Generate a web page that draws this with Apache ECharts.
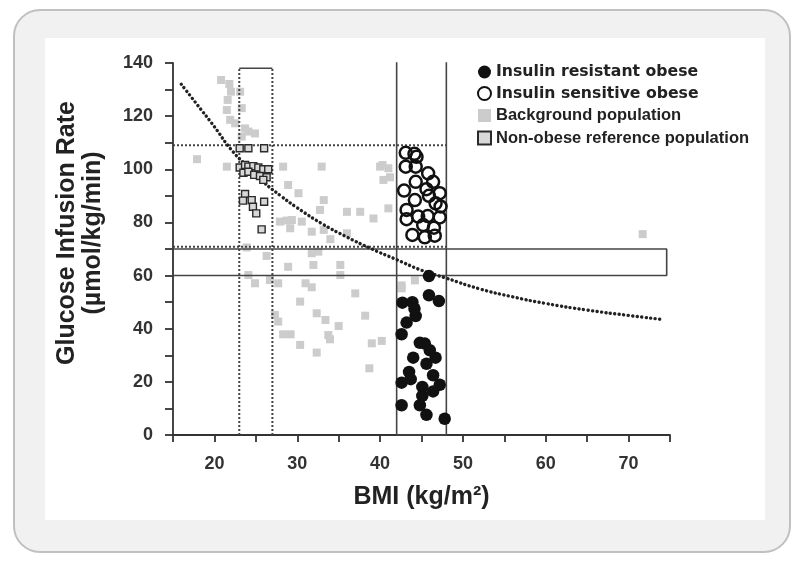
<!DOCTYPE html>
<html><head><meta charset="utf-8">
<script src="https://cdn.jsdelivr.net/npm/echarts@6/dist/echarts.min.js"></script>
<style>html,body{margin:0;padding:0;background:#fff}#c{width:800px;height:563px}</style>
</head><body><div id="c"></div>
<script>
// ---- data ----
const xTicks = [20, 30, 40, 50, 60, 70];
const yTicks = [0, 20, 40, 60, 80, 100, 120, 140];

const insulinResistant = [[45.9,59.8],[45.9,52.6],[47.1,50.4],[42.7,49.8],[43.9,50],[44.15,47.5],[44.3,44.8],[43.2,42.3],[42.6,37.9],[44.8,34.7],[45.4,34.4],[46,31.9],[44,29.1],[46.7,29.1],[45.6,26.8],[43.5,23.7],[46.4,22.5],[42.6,19.7],[43.7,21],[45.1,18.1],[47.2,18.9],[46.4,16.4],[45.1,14.7],[42.6,11.2],[44.8,11.2],[45.6,7.6],[47.8,6.1]];

const insulinSensitive = [[43.1,106.2],[44.15,105.8],[44.4,104.7],[43.1,101],[44.3,101],[45.8,98.5],[46.4,95.3],[44.3,95.3],[42.9,92],[45.6,92.5],[47.2,91],[45.9,90],[44.2,88.4],[46.7,87.2],[47.3,86],[43.2,84.7],[44.6,82.2],[45.75,82.4],[47.2,81.9],[43.2,81.2],[45.2,79],[46.5,78],[43.9,75.3],[45.4,74.4],[46.6,75]];

const background = [[20.8,133.6],[21.8,132.1],[22,129.2],[21.6,126.1],[23.1,129.2],[21.5,122.3],[23.3,123],[21.9,118.6],[22.5,117.3],[23.7,115.4],[24.1,114.2],[24.9,113.5],[23.3,112.3],[17.9,103.8],[21.5,101],[28.3,101],[28.9,94.1],[27.9,80.3],[28.7,80.7],[32.95,101],[40,101],[41,100.4],[40.4,96],[30.15,91],[33.2,88.4],[32.75,84.7],[36,84],[37.6,84],[39.2,81.5],[41,85.3],[29.35,80.9],[30.55,80.3],[29.15,77.8],[31.75,76.5],[33.2,77.2],[34,73.7],[36,75.9],[31.75,68.4],[32.55,69],[31.95,64],[28.9,63.3],[35.2,64],[35.2,60.2],[27.7,57.1],[31,57.1],[31.75,55.6],[37,53.3],[30.35,50.2],[32.35,45.8],[33.4,43.3],[38.2,44.9],[35,41],[27.7,42.7],[28.3,37.9],[29.2,37.9],[33.75,37.6],[33.95,36],[30.35,33.9],[39,34.5],[40.2,35.4],[32.35,31],[38.7,25.1],[42.6,55.2],[42.6,56.3],[44.2,58.2],[24.1,60.2],[24.9,57.1],[26.7,58.3],[26.3,67.4],[23.9,70.6],[27.3,45.2],[71.7,75.6],[40.3,101.6],[41.2,97]];

const nonObeseRef = [[23.05,107.9],[24.1,107.9],[26,107.9],[23.05,100.7],[23.7,101.6],[24.1,101],[24.7,101.2],[25.3,100.7],[25.9,100],[26.5,100],[23.5,98.7],[24.1,99.1],[24.8,97.9],[25.5,97.5],[26.3,97],[25.9,96],[23.7,90.7],[23.45,88.2],[24.5,88.4],[26,87.8],[24.65,85.9],[25.05,83.4],[25.7,77.4]];

const trendX = [16, 18, 20, 22, 24, 26, 28, 30, 33, 36, 39, 42, 45, 48, 52, 56, 60, 65, 70, 74];
const trendY = [132, 124, 116, 107.5, 101, 95, 90, 85.5, 79.5, 74.5, 70, 66, 62, 59, 55, 52, 49.5, 47, 45, 43.5];

// boxes: [xMin, xMax, yMin, yMax]
const boxReference = [23, 27, 0, 138];
const boxObese = [42, 48, 0, 141];
const boxHorizontal = [15, 74.6, 60, 70];
const boxDotted = [15, 48, 70.8, 109];

// ---- chart ----
const font = '"Liberation Sans", Arial, Helvetica, sans-serif';
const heavy = '"DejaVu Sans", "Liberation Sans", sans-serif';
const chart = echarts.init(document.getElementById('c'), null, {renderer: 'canvas'});

function rectPath(b) {
  return [[b[0], b[2]], [b[0], b[3]], [b[1], b[3]], [b[1], b[2]], [b[0], b[2]]];
}
function seg(a, b) { return [a, b]; }
const dotted = {type: [2, 2], width: 2, color: '#444'};
const solid = {type: 'solid', width: 1.6, color: '#444'};
function lineSeries(data, style, z) {
  return {type: 'line', data: data, symbol: 'none', silent: true, lineStyle: style, z: z || 1, animation: false, legendHoverLink: false};
}

const trend = trendX.map((x, i) => [x, trendY[i]]);

chart.setOption({
  animation: false,
  backgroundColor: 'transparent',
  graphic: [
    {type: 'rect', shape: {x: 14, y: 10, width: 776, height: 542, r: 26}, style: {fill: '#f1f1f1', stroke: '#c0c0c0', lineWidth: 2}, z: -10},
    {type: 'rect', shape: {x: 45, y: 38, width: 720, height: 482}, style: {fill: '#ffffff'}, z: -9},
    {type: 'text', x: 80, y: 233, rotation: Math.PI / 2, z: 10,
     style: {text: 'Glucose Infusion Rate\n(µmol/kg/min)', font: 'bold 25px ' + font, fill: '#222', textAlign: 'center', textVerticalAlign: 'middle', lineHeight: 26}}
  ],
  grid: {left: 173, top: 63, width: 497, height: 372},
  xAxis: {
    type: 'value', min: 15, max: 75, interval: 5,
    axisLine: {lineStyle: {color: '#333', width: 1.8}},
    axisTick: {length: 7, lineStyle: {color: '#333', width: 1.8}},
    splitLine: {show: false},
    axisLabel: {margin: 20, color: '#333', fontFamily: font, fontWeight: 'bold', fontSize: 18,
      formatter: v => xTicks.indexOf(v) >= 0 ? String(v) : ''},
    name: 'BMI (kg/m²)', nameLocation: 'middle', nameGap: 50,
    nameTextStyle: {color: '#222', fontFamily: font, fontWeight: 'bold', fontSize: 25}
  },
  yAxis: {
    type: 'value', min: 0, max: 140, interval: 10,
    axisLine: {lineStyle: {color: '#333', width: 1.8}},
    axisTick: {length: 8, lineStyle: {color: '#333', width: 1.8}},
    splitLine: {show: false},
    axisLabel: {margin: 20, color: '#333', fontFamily: font, fontWeight: 'bold', fontSize: 18,
      formatter: v => yTicks.indexOf(v) >= 0 ? String(v) : ''}
  },
  legend: {
    orient: 'vertical', left: 472, top: 59, itemGap: 5.5, itemWidth: 13, itemHeight: 13,
    textStyle: {color: '#222', fontFamily: font, fontWeight: 'bold', fontSize: 16.5},
    data: [
      {name: 'Insulin resistant obese', textStyle: {fontFamily: heavy, fontSize: 15.7}},
      {name: 'Insulin sensitive obese', textStyle: {fontFamily: heavy, fontSize: 15.7}},
      {name: 'Background population'},
      {name: 'Non-obese reference population'}
    ]
  },
  series: [
    lineSeries(rectPath(boxHorizontal), solid, 2),
    lineSeries([[boxDotted[0], boxDotted[3]], [boxDotted[1], boxDotted[3]]], dotted, 2),
    lineSeries([[boxDotted[0], boxDotted[2]], [boxDotted[1], boxDotted[2]]], dotted, 2),
    lineSeries(seg([boxReference[0], boxReference[2]], [boxReference[0], boxReference[3]]), dotted, 2),
    lineSeries(seg([boxReference[1], boxReference[2]], [boxReference[1], boxReference[3]]), dotted, 2),
    lineSeries(seg([boxReference[0], boxReference[3]], [boxReference[1], boxReference[3]]), solid, 2),
    lineSeries(rectPath(boxObese), solid, 2),
    {type: 'line', data: trend, smooth: true, symbol: 'none', silent: true, z: 3,
     lineStyle: {type: [0.1, 4.4], width: 3.4, cap: 'round', color: '#222'}},
    {name: 'Background population', type: 'scatter', data: background, symbol: 'rect', symbolSize: 8, z: 1,
     itemStyle: {color: '#cccccc', opacity: 1}},
    {name: 'Non-obese reference population', type: 'scatter', data: nonObeseRef, symbol: 'rect', symbolSize: 7, z: 4,
     itemStyle: {color: '#d8d8d8', borderColor: '#2a2a2a', borderWidth: 1.4, opacity: 1}},
    {name: 'Insulin sensitive obese', type: 'scatter', data: insulinSensitive, symbol: 'circle', symbolSize: 12, z: 5,
     itemStyle: {color: 'rgba(255,255,255,0)', borderColor: '#111', borderWidth: 2.5, opacity: 1}},
    {name: 'Insulin resistant obese', type: 'scatter', data: insulinResistant, symbol: 'circle', symbolSize: 12.5, z: 5,
     itemStyle: {color: '#111', opacity: 1}}
  ]
});
</script></body></html>
